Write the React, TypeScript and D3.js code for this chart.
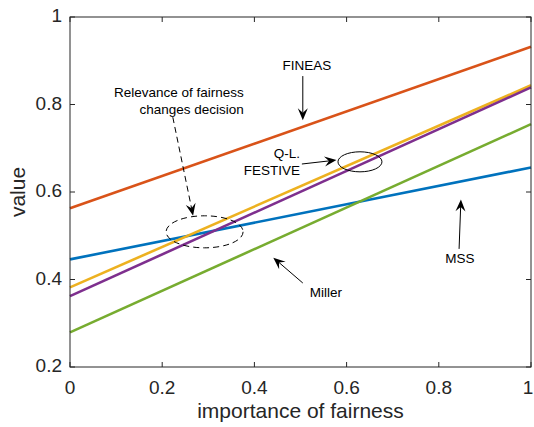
import React from "react";
import * as d3 from "d3";

// ---- data ----
const seriesNames = ["MSS", "FINEAS", "Q-L.", "FESTIVE", "Miller"];
const seriesColors = ["#0072BD", "#D95319", "#EDB120", "#7E2F8E", "#77AC30"];
const xValues = [0, 1];
const startValues = [0.446, 0.563, 0.382, 0.362, 0.279];
const endValues = [0.656, 0.932, 0.844, 0.839, 0.755];
const xTicks = [0, 0.2, 0.4, 0.6, 0.8, 1];
const yTicks = [0.2, 0.4, 0.6, 0.8, 1];
const xTickLabels = ["0", "0.2", "0.4", "0.6", "0.8", "1"];
const yTickLabels = ["0.2", "0.4", "0.6", "0.8", "1"];

// annotations in data units
const textLabels = [
  { lines: ["FINEAS"], x: 0.514, y: 0.886, anchor: "middle" },
  { lines: ["Relevance of fairness", "changes decision"], x: 0.377, y: 0.826, anchor: "end" },
  { lines: ["Q-L.", "FESTIVE"], x: 0.499, y: 0.685, anchor: "end" },
  { lines: ["MSS"], x: 0.846, y: 0.447, anchor: "middle" },
  { lines: ["Miller"], x: 0.555, y: 0.369, anchor: "middle" },
];
const arrows = [
  { x1: 0.505, y1: 0.865, x2: 0.505, y2: 0.764, dashed: false },
  { x1: 0.223, y1: 0.771, x2: 0.267, y2: 0.546, dashed: true },
  { x1: 0.503, y1: 0.664, x2: 0.578, y2: 0.673, dashed: false },
  { x1: 0.844, y1: 0.47, x2: 0.848, y2: 0.583, dashed: false },
  { x1: 0.505, y1: 0.392, x2: 0.441, y2: 0.45, dashed: false },
];
const ellipses = [
  { cx: 0.292, cy: 0.509, rx: 0.0835, ry: 0.0366, dashed: true },
  { cx: 0.629, cy: 0.669, rx: 0.0477, ry: 0.0229, dashed: false },
];

const W = 534;
const H = 427;
const margin = { left: 70, right: 3, top: 17, bottom: 60 };
const FONT = "'Liberation Sans', Arial, sans-serif";
const AX = "#262626";

export default function App() {
  const x = d3.scaleLinear().domain([0, 1]).range([margin.left, W - margin.right]);
  const y = d3.scaleLinear().domain([0.2, 1]).range([H - margin.bottom, margin.top]);
  const line = d3
    .line<[number, number]>()
    .x((d) => x(d[0]))
    .y((d) => y(d[1]));

  const x0 = x(0), x1 = x(1), y0 = y(0.2), y1 = y(1);
  const tickLen = 5;

  const arrowHead = (a: typeof arrows[0]) => {
    const px1 = x(a.x1), py1 = y(a.y1), px2 = x(a.x2), py2 = y(a.y2);
    const ang = Math.atan2(py2 - py1, px2 - px1);
    const L = 12, Wd = 5, back = 7.5;
    const pts = [
      [0, 0],
      [-L, -Wd],
      [-back, 0],
      [-L, Wd],
    ].map(([u, v]) => [px2 + u * Math.cos(ang) - v * Math.sin(ang), py2 + u * Math.sin(ang) + v * Math.cos(ang)]);
    const ex = px2 - back * Math.cos(ang), ey = py2 - back * Math.sin(ang);
    return { path: "M" + pts.map((p) => p.join(",")).join("L") + "Z", ex, ey, px1, py1 };
  };

  return (
    <svg width={W} height={H} style={{ position: "absolute", left: 0, top: 0, background: "#fff" }} fontFamily={FONT}>
      <rect x={0} y={0} width={W} height={H} fill="#fff" />
      {/* series */}
      {seriesNames.map((n, i) => (
        <path
          key={n}
          d={line([[xValues[0], startValues[i]], [xValues[1], endValues[i]]]) || ""}
          stroke={seriesColors[i]}
          strokeWidth={2.6}
          fill="none"
        />
      ))}
      {/* box */}
      <rect x={x0} y={y1} width={x1 - x0} height={y0 - y1} fill="none" stroke={AX} strokeWidth={1} />
      {xTicks.map((t, i) => (
        <g key={"xt" + i}>
          <line x1={x(t)} x2={x(t)} y1={y0} y2={y0 - tickLen} stroke={AX} />
          <line x1={x(t)} x2={x(t)} y1={y1} y2={y1 + tickLen} stroke={AX} />
          <text
            x={Math.min(x(t), W - 6)}
            y={y0 + 22}
            fontSize={19}
            textAnchor="middle"
            dominantBaseline="middle"
            fill={AX}
          >
            {xTickLabels[i]}
          </text>
        </g>
      ))}
      {yTicks.map((t, i) => (
        <g key={"yt" + i}>
          <line x1={x0} x2={x0 + tickLen} y1={y(t)} y2={y(t)} stroke={AX} />
          <line x1={x1} x2={x1 - tickLen} y1={y(t)} y2={y(t)} stroke={AX} />
          <text x={x0 - 8} y={y(t)} fontSize={19} textAnchor="end" dominantBaseline="middle" fill={AX}>
            {yTickLabels[i]}
          </text>
        </g>
      ))}
      <text x={(x0 + x1) / 2} y={y0 + 45} fontSize={21} textAnchor="middle" dominantBaseline="middle" fill={AX}>
        importance of fairness
      </text>
      <text
        transform={`translate(19,${(y0 + y1) / 2}) rotate(-90)`}
        fontSize={21}
        textAnchor="middle"
        dominantBaseline="middle"
        fill={AX}
      >
        value
      </text>
      {/* annotations */}
      {ellipses.map((e, i) => (
        <ellipse
          key={"el" + i}
          cx={x(e.cx)}
          cy={y(e.cy)}
          rx={x(e.rx) - x(0)}
          ry={y(0) - y(e.ry)}
          fill="none"
          stroke="#000"
          strokeWidth={1}
          strokeDasharray={e.dashed ? "6,4" : undefined}
        />
      ))}
      {arrows.map((a, i) => {
        const h = arrowHead(a);
        return (
          <g key={"ar" + i}>
            <line
              x1={h.px1}
              y1={h.py1}
              x2={h.ex}
              y2={h.ey}
              stroke="#000"
              strokeWidth={1}
              strokeDasharray={a.dashed ? "6,4" : undefined}
            />
            <path d={h.path} fill="#000" />
          </g>
        );
      })}
      {textLabels.map((t, i) => (
        <text key={"tl" + i} fontSize={13.5} textAnchor={t.anchor} fill="#000">
          {t.lines.map((l, j) => (
            <tspan key={j} x={x(t.x)} y={y(t.y) + j * 17} dominantBaseline="middle">
              {l}
            </tspan>
          ))}
        </text>
      ))}
    </svg>
  );
}
